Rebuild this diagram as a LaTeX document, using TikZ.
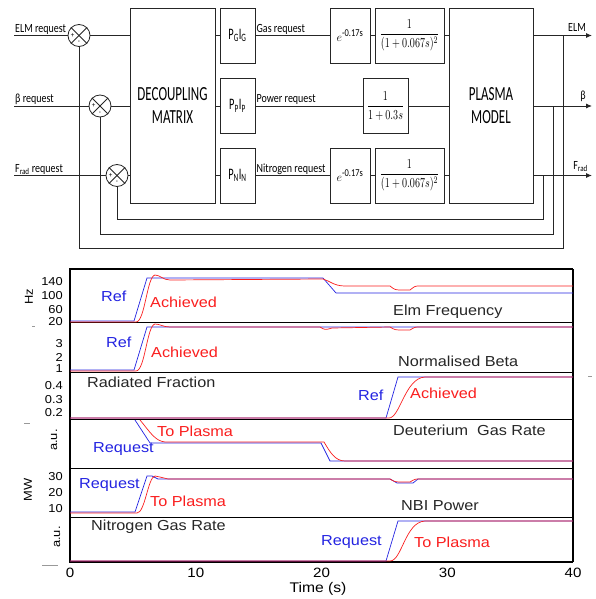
\documentclass[tikz,border=0pt]{standalone}
\usepackage{fontspec}
\setmainfont{Carlito}
\newfontfamily\blockfont[FakeStretch=0.8]{Carlito}
\newfontfamily\boxfont[FakeStretch=0.65]{Carlito}
\newfontfamily\plotfont[FakeStretch=1.12]{Liberation Sans}
\usepackage{amsmath}
\usepackage{graphicx}
\usepackage{xcolor}
\usetikzlibrary{arrows.meta,calc}

\definecolor{refblue}{RGB}{35,35,225}
\definecolor{achred}{RGB}{250,30,30}

\newcommand{\delayexp}{$e^{\mbox{\blockfont\fontsize{10.5}{11}\selectfont -0.17s}}$}

\tikzset{
  blockbox/.style={draw=black!85, line width=0.9pt, inner sep=0pt},
  sumnode/.style={circle, draw=black!85, line width=0.8pt, minimum size=22, inner sep=0pt},
  sigline/.style={line width=0.9pt, black!85},
  sigarrow/.style={sigline, -{Latex[length=6pt,width=5pt]}},
  siglabel/.style={font=\blockfont\fontsize{12.5}{13}\selectfont, inner sep=1pt},
  signfont/.style={font=\fontsize{7}{7}\selectfont, inner sep=0pt},
  mathbox/.style={font=\fontsize{11}{13}\selectfont},
  reftrace/.style={refblue, line width=0.7pt},
  achtrace/.style={achred, line width=0.7pt},
  bluelabel/.style={refblue, font=\plotfont\fontsize{14.5}{16}\selectfont, inner sep=0pt},
  redlabel/.style={achred, font=\plotfont\fontsize{14.5}{16}\selectfont, inner sep=0pt},
  titlelabel/.style={black!85, font=\plotfont\fontsize{14.5}{16}\selectfont, inner sep=0pt},
  tickfont/.style={font=\plotfont\fontsize{11.5}{12}\selectfont, inner sep=0pt},
  axisfont/.style={font=\plotfont\fontsize{13.5}{15}\selectfont, inner sep=0pt}
}

\begin{document}
\begin{tikzpicture}[x=1pt,y=-1pt]
\useasboundingbox (0,0) rectangle (595,599);

% Decoupling matrix and plasma model
\node[blockbox, minimum width=85, minimum height=195, align=center,
  font=\boxfont\fontsize{20}{23}\selectfont] (dec) at (172.5,105.5) {DECOUPLING\\MATRIX};
\node[blockbox, minimum width=84, minimum height=195, align=center,
  font=\boxfont\fontsize{20}{23}\selectfont] (plasma) at (491,105.5) {PLASMA\\MODEL};

% Actuator gains
\node[blockbox, minimum width=35, minimum height=55, font=\boxfont\fontsize{16}{18}\selectfont] (pg) at (237.5,35.5) {P\textsubscript{G}I\textsubscript{G}};
\node[blockbox, minimum width=35, minimum height=55, font=\boxfont\fontsize{16}{18}\selectfont] (pp) at (237.5,106) {P\textsubscript{P}I\textsubscript{P}};
\node[blockbox, minimum width=35, minimum height=55, font=\boxfont\fontsize{16}{18}\selectfont] (pn) at (237.5,175.5) {P\textsubscript{N}I\textsubscript{N}};

% Delays and actuator dynamics
\node[blockbox, font=\fontsize{13}{14}\selectfont, minimum width=40, minimum height=55] (eg) at (350,35.5) {\delayexp};
\node[blockbox, mathbox, minimum width=69, minimum height=55] (fg) at (409.5,35.5) {\scalebox{0.92}[1.25]{$\dfrac{1}{(1+0.067s)^2}$}};
\node[blockbox, mathbox, minimum width=45, minimum height=55] (fp) at (385.5,106) {\scalebox{0.92}[1.25]{$\dfrac{1}{1+0.3s}$}};
\node[blockbox, font=\fontsize{13}{14}\selectfont, minimum width=40, minimum height=55] (en) at (350,175.5) {\delayexp};
\node[blockbox, mathbox, minimum width=69, minimum height=55] (fn) at (409.5,175.5) {\scalebox{0.92}[1.25]{$\dfrac{1}{(1+0.067s)^2}$}};

% Summing junctions
\node[sumnode] (s1) at (79,35.5) {};
\node[sumnode] (s2) at (100,106) {};
\node[sumnode] (s3) at (117,175.5) {};
\foreach \s in {s1,s2,s3}{
  \draw[sigline, line width=0.8pt] (\s.north west) -- (\s.south east);
  \draw[sigline, line width=0.8pt] (\s.north east) -- (\s.south west);
  \node[signfont] (\s-p) at ($(\s)+(-6.5,0)$) {+};
  \node[signfont] (\s-m) at ($(\s)+(0,7)$) {-};
}

% Requests in
\coordinate (elmin) at (14,35.5);
\coordinate (betain) at (14,106);
\coordinate (fradin) at (14,175.5);
\draw[sigline] (elmin) -- (s1);
\draw[sigline] (betain) -- (s2);
\draw[sigline] (fradin) -- (s3);
\node[siglabel, anchor=south west] (lelm) at (elmin) {ELM request};
\node[siglabel, anchor=south west] (lbeta) at (betain) {β request};
\node[siglabel, anchor=south west] (lfrad) at (fradin) {F\textsubscript{rad} request};

% Forward path
\draw[sigline] (s1) -- (s1 -| dec.west);
\draw[sigline] (s2) -- (s2 -| dec.west);
\draw[sigline] (s3) -- (s3 -| dec.west);
\draw[sigline] (pg -| dec.east) -- (pg);
\draw[sigline] (pp -| dec.east) -- (pp);
\draw[sigline] (pn -| dec.east) -- (pn);
\draw[sigline] (pg) -- (eg);
\draw[sigline] (eg) -- (fg);
\draw[sigline] (fg) -- (fg -| plasma.west);
\draw[sigline] (pp) -- (fp);
\draw[sigline] (fp) -- (fp -| plasma.west);
\draw[sigline] (pn) -- (en);
\draw[sigline] (en) -- (fn);
\draw[sigline] (fn) -- (fn -| plasma.west);
\node[siglabel, anchor=south west] (lgas) at (pg.east) {Gas request};
\node[siglabel, anchor=south west] (lpow) at (pp.east) {Power request};
\node[siglabel, anchor=south west] (lnit) at (pn.east) {Nitrogen request};

% Outputs
\coordinate (elmout) at (592,35.5);
\coordinate (betaout) at (592,106);
\coordinate (fradout) at (592,175.5);
\draw[sigarrow] (elmout -| plasma.east) -- (elmout);
\draw[sigarrow] (betaout -| plasma.east) -- (betaout);
\draw[sigarrow] (fradout -| plasma.east) -- (fradout);
\node[siglabel, anchor=south east] (oelm) at ($(elmout)+(-5,-3)$) {ELM};
\node[siglabel, anchor=south east] (obeta) at ($(betaout)+(-5,-3)$) {β};
\node[siglabel, anchor=south east] (ofrad) at ($(fradout)+(-3,-3)$) {F\textsubscript{rad}};

% Feedback loops
\coordinate (fb1) at (563,248);
\coordinate (fb2) at (553,234);
\coordinate (fb3) at (543,219);
\draw[sigline] (s1) -- (s1 |- fb1) -- (fb1) -- (fb1 |- elmout);
\draw[sigline] (s2) -- (s2 |- fb2) -- (fb2) -- (fb2 |- betaout);
\draw[sigline] (s3) -- (s3 |- fb3) -- (fb3) -- (fb3 |- fradout);

% Time traces: frame and panels
\foreach \y in {322,372,419,468,517}
  \draw[line width=0.8pt] (70,\y) -- (573,\y);
\draw[line width=1.2pt] (573,269) -- (573,562);
\draw[line width=1.8pt] (573,269) -- (70,269) -- (70,562) -- (573,562);

% stray marks
\draw[black!40, line width=0.8pt] (32,326) -- (35,326);
\draw[black!40, line width=0.8pt] (24,423) -- (30,423);
\draw[black!40, line width=0.8pt] (42,565) -- (58,565);
\draw[black!40, line width=0.8pt] (588,376) -- (592,376);

% Elm frequency
\draw[reftrace] (70,321) -- (134,321) -- (147,278) -- (323,278) -- (336,293) -- (573,293);
\draw[achtrace] (70,322) -- (136,322) .. controls (145,322) and (147,276) .. (155,275)
  .. controls (160,275) and (163,280) .. (170,280) -- (323,279)
  .. controls (330,281) and (334,286) .. (345,286) -- (390,286)
  .. controls (395,290) .. (403,290) -- (410,290) .. controls (415,286) .. (420,286) -- (573,286);

% Normalised beta
\draw[reftrace] (70,370) -- (134,370) -- (147,327) -- (573,327);
\draw[achtrace] (70,371) -- (136,371) .. controls (145,371) and (147,325) .. (155,324)
  .. controls (160,324) and (163,327) .. (170,327) -- (320,327)
  .. controls (325,330) .. (332,328) -- (390,327)
  .. controls (395,330) .. (403,330) -- (410,330) .. controls (415,327) .. (420,327) -- (573,327);

% Radiated fraction
\draw[reftrace] (70,418) -- (386,418) -- (398,377) -- (573,377);
\draw[achtrace] (70,418) -- (389,418) .. controls (400,418) and (405,378) .. (425,377) -- (573,377);

% Deuterium gas rate
\draw[reftrace] (135,420) -- (150,443) -- (321,443) -- (330,461) -- (573,461);
\draw[achtrace] (140,420) .. controls (150,432) and (155,441) .. (165,442) -- (324,442)
  .. controls (330,452) and (335,461) .. (345,461) -- (573,461);

% NBI power
\draw[reftrace] (70,512) -- (135,512) -- (147,476) -- (152,476) -- (158,479) -- (390,479)
  -- (397,483) -- (413,483) -- (418,479) -- (573,479);
\draw[achtrace] (70,513) -- (137,513) .. controls (145,513) and (148,477) .. (155,476)
  .. controls (160,477) .. (168,479) -- (390,479) .. controls (395,482) .. (403,482)
  -- (410,482) .. controls (415,479) .. (420,479) -- (573,479);

% Nitrogen gas rate
\draw[reftrace] (70,561) -- (386,561) -- (398,521) -- (573,521);
\draw[achtrace] (70,561) -- (390,561) .. controls (402,561) and (405,522) .. (425,521) -- (573,521);

% Trace labels
\node[bluelabel, anchor=west] (ref1) at (101,296) {Ref};
\node[redlabel, anchor=west] (ach1) at (150,302) {Achieved};
\node[titlelabel, anchor=west] (tit1) at (393,312) {Elm Frequency};
\node[bluelabel, anchor=west] (ref2) at (106,342) {Ref};
\node[redlabel, anchor=west] (ach2) at (151,352) {Achieved};
\node[titlelabel, anchor=west] (tit2) at (398,361) {Normalised Beta};
\node[titlelabel, anchor=west] (tit3) at (87,382) {Radiated Fraction};
\node[bluelabel, anchor=west] (ref3) at (358,395) {Ref};
\node[redlabel, anchor=west] (ach3) at (410,393) {Achieved};
\node[redlabel, anchor=west] (ach4) at (157,431) {To Plasma};
\node[bluelabel, anchor=west] (ref4) at (93,449) {Request};
\node[titlelabel, anchor=west] (tit4) at (393,430) {Deuterium\ \ Gas Rate};
\node[bluelabel, anchor=west] (ref5) at (79,485) {Request};
\node[redlabel, anchor=west] (ach5) at (150,501) {To Plasma};
\node[titlelabel, anchor=west] (tit5) at (401,506) {NBI Power};
\node[titlelabel, anchor=west] (tit6) at (91,527) {Nitrogen Gas Rate};
\node[bluelabel, anchor=west] (ref6) at (321,542) {Request};
\node[redlabel, anchor=west] (ach6) at (414,542) {To Plasma};

% Axes
\foreach \v/\y [count=\i] in {140/282,100/296,60/310,20/322,3/344,2/357,1/369,
    0.4/386,0.3/400,0.2/413,30/477,20/493,10/509}
  \node[tickfont, anchor=east] (ytick\i) at (63,\y) {\v};
\node[tickfont, rotate=90] (yhz) at (29,297) {Hz};
\node[tickfont, rotate=90] (yau1) at (54,440) {a.u.};
\node[tickfont, rotate=90] (ymw) at (28,490) {MW};
\node[tickfont, rotate=90] (yau2) at (57,537) {a.u.};
\foreach \t in {0,10,20,30,40}
  \node[axisfont] (xtick\t) at ({70+12.575*\t},573) {\t};
\node[axisfont, font=\plotfont\fontsize{14}{15}\selectfont] (xlab) at (318,589) {Time (s)};
\end{tikzpicture}
\end{document}
